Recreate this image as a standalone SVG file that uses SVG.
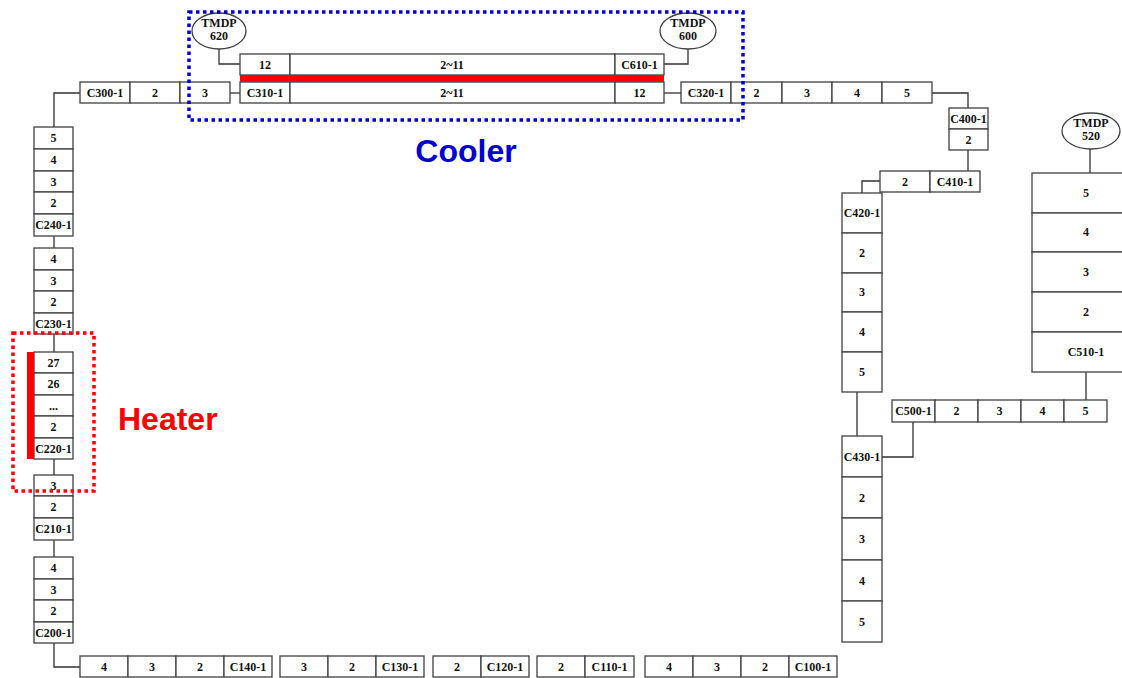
<svg xmlns="http://www.w3.org/2000/svg" width="1122" height="678" viewBox="0 0 1122 678">
<style>
.c rect{fill:#fff;stroke:#404040;stroke-width:1.3}
.c text,.e text{font-family:"Liberation Serif",serif;font-weight:bold;font-size:12px;fill:#111;text-anchor:middle}
.e ellipse{fill:#fff;stroke:#404040;stroke-width:1.3}
.ln path{fill:none;stroke:#303030;stroke-width:1.3}
.lbl{font-family:"Liberation Sans",Arial,sans-serif;font-weight:bold;font-size:32px}
</style>
<rect width="1122" height="678" fill="#fff"/>
<g class="ln" id="connectors">
<path d="M80,93 H54 V127"/>
<path d="M54,236 V248"/>
<path d="M54,334 V352"/>
<path d="M54,459 V475"/>
<path d="M54,540 V557"/>
<path d="M54,643 V667 H80"/>
<path d="M230,93 H240"/>
<path d="M219,49 V64 H240"/>
<path d="M688,49 V64 H664"/>
<path d="M664,93 H681"/>
<path d="M932,93 H968 V108"/>
<path d="M968,150 V171"/>
<path d="M880,181 H862 V193"/>
<path d="M857,392 V436"/>
<path d="M882,457 H913 V422"/>
<path d="M1086,400 V372"/>
<path d="M1090,149 V173"/>
</g>
<g id="C300" class="c">
<rect x="80" y="82" width="50" height="21"/><text x="105" y="97">C300-1</text>
<rect x="130" y="82" width="50" height="21"/><text x="155" y="97">2</text>
<rect x="180" y="82" width="50" height="21"/><text x="205" y="97">3</text>
</g>
<g id="C310" class="c">
<rect x="240" y="82" width="50" height="21"/><text x="265" y="97">C310-1</text>
<rect x="290" y="82" width="325" height="21"/><text x="452" y="97">2~11</text>
<rect x="615" y="82" width="49" height="21"/><text x="639.5" y="97">12</text>
</g>
<g id="C610" class="c">
<rect x="240" y="54" width="50" height="21"/><text x="265" y="69">12</text>
<rect x="290" y="54" width="325" height="21"/><text x="452" y="69">2~11</text>
<rect x="615" y="54" width="49" height="21"/><text x="639.5" y="69">C610-1</text>
</g>
<rect id="cooler-bar" x="240" y="75" width="424" height="7" fill="#ff0000"/>
<g id="TMDP620" class="e"><ellipse cx="219" cy="31" rx="27" ry="18"/><text x="219" y="27">TMDP</text><text x="219" y="40">620</text></g>
<g id="TMDP600" class="e"><ellipse cx="688" cy="31" rx="28" ry="18"/><text x="688" y="27">TMDP</text><text x="688" y="40">600</text></g>
<g id="C320" class="c">
<rect x="681" y="82" width="50" height="21"/><text x="706" y="97">C320-1</text>
<rect x="731" y="82" width="51" height="21"/><text x="756.5" y="97">2</text>
<rect x="782" y="82" width="50" height="21"/><text x="807" y="97">3</text>
<rect x="832" y="82" width="50" height="21"/><text x="857" y="97">4</text>
<rect x="882" y="82" width="50" height="21"/><text x="907" y="97">5</text>
</g>
<rect id="cooler-box" x="189" y="12" width="554" height="108" fill="none" stroke="#0000cc" stroke-width="3.5" stroke-dasharray="3.5 3.5"/>
<text class="lbl" x="466" y="162" fill="#0000cc" text-anchor="middle">Cooler</text>
<g id="C240" class="c">
<rect x="34" y="127" width="39" height="22"/><text x="53.5" y="142">5</text>
<rect x="34" y="149" width="39" height="22"/><text x="53.5" y="164">4</text>
<rect x="34" y="171" width="39" height="21"/><text x="53.5" y="186">3</text>
<rect x="34" y="192" width="39" height="22"/><text x="53.5" y="207">2</text>
<rect x="34" y="214" width="39" height="22"/><text x="53.5" y="229">C240-1</text>
</g>
<g id="C230" class="c">
<rect x="34" y="248" width="39" height="22"/><text x="53.5" y="263">4</text>
<rect x="34" y="270" width="39" height="21"/><text x="53.5" y="285">3</text>
<rect x="34" y="291" width="39" height="22"/><text x="53.5" y="306">2</text>
<rect x="34" y="313" width="39" height="21"/><text x="53.5" y="328">C230-1</text>
</g>
<g id="C220" class="c">
<rect x="34" y="352" width="39" height="21"/><text x="53.5" y="367">27</text>
<rect x="34" y="373" width="39" height="22"/><text x="53.5" y="388">26</text>
<rect x="34" y="395" width="39" height="21"/><text x="53.5" y="410">...</text>
<rect x="34" y="416" width="39" height="22"/><text x="53.5" y="431">2</text>
<rect x="34" y="438" width="39" height="21"/><text x="53.5" y="453">C220-1</text>
</g>
<rect id="heater-bar" x="27" y="352" width="7" height="107" fill="#ff0000"/>
<g id="C210" class="c">
<rect x="34" y="475" width="39" height="21"/><text x="53.5" y="490">3</text>
<rect x="34" y="496" width="39" height="22"/><text x="53.5" y="511">2</text>
<rect x="34" y="518" width="39" height="22"/><text x="53.5" y="533">C210-1</text>
</g>
<rect id="heater-box" x="13" y="333" width="81" height="158" fill="none" stroke="#ff0000" stroke-width="3.5" stroke-dasharray="3.5 3.5"/>
<text class="lbl" x="118" y="430" fill="#ff0000">Heater</text>
<g id="C200" class="c">
<rect x="34" y="557" width="39" height="22"/><text x="53.5" y="572">4</text>
<rect x="34" y="579" width="39" height="21"/><text x="53.5" y="594">3</text>
<rect x="34" y="600" width="39" height="22"/><text x="53.5" y="615">2</text>
<rect x="34" y="622" width="39" height="21"/><text x="53.5" y="637">C200-1</text>
</g>
<g id="C140" class="c">
<rect x="80" y="656" width="48" height="21"/><text x="104" y="671">4</text>
<rect x="128" y="656" width="48" height="21"/><text x="152" y="671">3</text>
<rect x="176" y="656" width="48" height="21"/><text x="200" y="671">2</text>
<rect x="224" y="656" width="48" height="21"/><text x="248" y="671">C140-1</text>
</g>
<g id="C130" class="c">
<rect x="280" y="656" width="48" height="21"/><text x="304" y="671">3</text>
<rect x="328" y="656" width="48" height="21"/><text x="352" y="671">2</text>
<rect x="376" y="656" width="48" height="21"/><text x="400" y="671">C130-1</text>
</g>
<g id="C120" class="c">
<rect x="433" y="656" width="48" height="21"/><text x="457" y="671">2</text>
<rect x="481" y="656" width="48" height="21"/><text x="505" y="671">C120-1</text>
</g>
<g id="C110" class="c">
<rect x="537" y="656" width="48" height="21"/><text x="561" y="671">2</text>
<rect x="585" y="656" width="49" height="21"/><text x="609.5" y="671">C110-1</text>
</g>
<g id="C100" class="c">
<rect x="645" y="656" width="48" height="21"/><text x="669" y="671">4</text>
<rect x="693" y="656" width="48" height="21"/><text x="717" y="671">3</text>
<rect x="741" y="656" width="48" height="21"/><text x="765" y="671">2</text>
<rect x="789" y="656" width="48" height="21"/><text x="813" y="671">C100-1</text>
</g>
<g id="C400" class="c">
<rect x="949" y="108" width="39" height="21"/><text x="968.5" y="123">C400-1</text>
<rect x="949" y="129" width="39" height="21"/><text x="968.5" y="144">2</text>
</g>
<g id="C410" class="c">
<rect x="880" y="171" width="50" height="21"/><text x="905" y="186">2</text>
<rect x="930" y="171" width="50" height="21"/><text x="955" y="186">C410-1</text>
</g>
<g id="C420" class="c">
<rect x="842" y="193" width="40" height="40"/><text x="862" y="217">C420-1</text>
<rect x="842" y="233" width="40" height="40"/><text x="862" y="257">2</text>
<rect x="842" y="273" width="40" height="39"/><text x="862" y="296">3</text>
<rect x="842" y="312" width="40" height="40"/><text x="862" y="336">4</text>
<rect x="842" y="352" width="40" height="40"/><text x="862" y="376">5</text>
</g>
<g id="C430" class="c">
<rect x="842" y="436" width="40" height="41"/><text x="862" y="461">C430-1</text>
<rect x="842" y="477" width="40" height="41"/><text x="862" y="502">2</text>
<rect x="842" y="518" width="40" height="42"/><text x="862" y="543">3</text>
<rect x="842" y="560" width="40" height="41"/><text x="862" y="585">4</text>
<rect x="842" y="601" width="40" height="41"/><text x="862" y="626">5</text>
</g>
<g id="C500" class="c">
<rect x="892" y="400" width="43" height="22"/><text x="913.5" y="415">C500-1</text>
<rect x="935" y="400" width="43" height="22"/><text x="956.5" y="415">2</text>
<rect x="978" y="400" width="43" height="22"/><text x="999.5" y="415">3</text>
<rect x="1021" y="400" width="43" height="22"/><text x="1042.5" y="415">4</text>
<rect x="1064" y="400" width="43" height="22"/><text x="1085.5" y="415">5</text>
</g>
<g id="C510" class="c">
<rect x="1032" y="173" width="108" height="40"/><text x="1086" y="197">5</text>
<rect x="1032" y="213" width="108" height="39"/><text x="1086" y="236">4</text>
<rect x="1032" y="252" width="108" height="40"/><text x="1086" y="276">3</text>
<rect x="1032" y="292" width="108" height="40"/><text x="1086" y="316">2</text>
<rect x="1032" y="332" width="108" height="40"/><text x="1086" y="356">C510-1</text>
</g>
<g id="TMDP520" class="e"><ellipse cx="1091" cy="131" rx="29" ry="18"/><text x="1091" y="127">TMDP</text><text x="1091" y="140">520</text></g>
</svg>
